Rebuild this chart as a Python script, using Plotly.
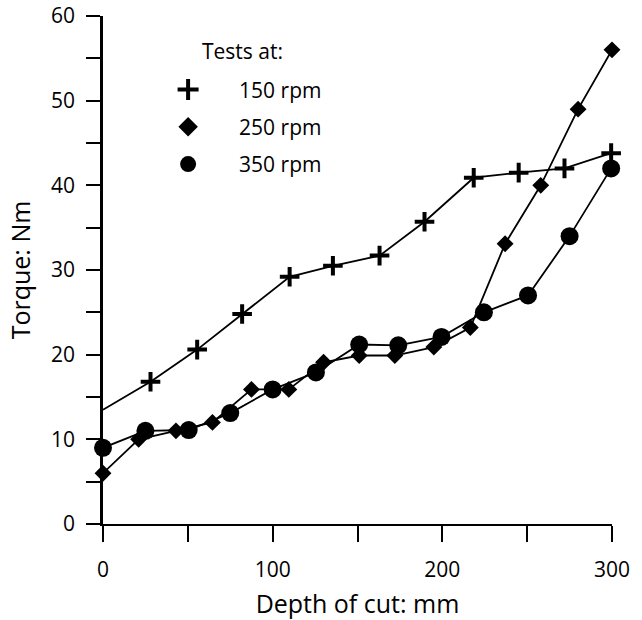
import plotly.graph_objects as go

# Data
depth_150 = [0, 28, 55.5, 82, 110, 135.5, 163, 189.5, 218.5, 245, 272, 299.5]
torque_150 = [13.5, 16.8, 20.6, 24.8, 29.2, 30.5, 31.7, 35.7, 40.9, 41.5, 42.0, 43.8]
show_150 = [False, True, True, True, True, True, True, True, True, True, True, True]

depth_250 = [0, 21, 43, 64.5, 87.5, 109.5, 130, 151, 172, 195, 216.5, 237, 258, 280, 300]
torque_250 = [6.0, 10.0, 11.0, 12.0, 15.9, 15.9, 19.1, 19.9, 19.9, 20.9, 23.2, 33.1, 40.0, 49.0, 56.0]

depth_350 = [0, 25, 50.5, 75, 100, 125.5, 151, 174, 199.5, 224.5, 250.5, 275, 299.5]
torque_350 = [9.0, 11.0, 11.1, 13.1, 15.9, 17.9, 21.2, 21.1, 22.1, 25.0, 27.0, 34.0, 42.0]

series_names = ["150 rpm", "250 rpm", "350 rpm"]
legend_title = "Tests at:"
x_title = "Depth of cut: mm"
y_title = "Torque: Nm"

x_tickvals = [0, 50, 100, 150, 200, 250, 300]
x_ticktext = ["0", "", "100", "", "200", "", "300"]
y_tickvals = [0, 5, 10, 15, 20, 25, 30, 35, 40, 45, 50, 55, 60]
y_ticktext = ["0", "", "10", "", "20", "", "30", "", "40", "", "50", "", "60"]

FONT = "Open Sans"
FS = 21
BLACK = "#000000"

fig = go.Figure()

# 150 rpm: line through all points, plus markers only where measured
fig.add_trace(go.Scatter(
    x=depth_150, y=torque_150, mode="lines", showlegend=False,
    line=dict(color=BLACK, width=1.8),
))
mx_150 = [x for x, s in zip(depth_150, show_150) if s]
my_150 = [y for y, s in zip(torque_150, show_150) if s]
fig.add_trace(go.Scatter(
    x=mx_150, y=my_150, mode="markers", showlegend=False,
    marker=dict(symbol="cross-thin", size=14, color=BLACK, opacity=1,
                line=dict(color=BLACK, width=4)),
    cliponaxis=False,
))
fig.add_trace(go.Scatter(
    x=depth_250, y=torque_250, mode="lines+markers", showlegend=False,
    line=dict(color=BLACK, width=1.8),
    marker=dict(symbol="diamond", size=13, color=BLACK),
    cliponaxis=False,
))
fig.add_trace(go.Scatter(
    x=depth_350, y=torque_350, mode="lines+markers", showlegend=False,
    line=dict(color=BLACK, width=1.8),
    marker=dict(symbol="circle", size=18, color=BLACK),
    cliponaxis=False,
))

# Legend-only entries (markers only, no line)
legend_markers = [
    dict(symbol="cross-thin", size=15, color=BLACK, line=dict(color=BLACK, width=4)),
    dict(symbol="diamond", size=15, color=BLACK),
    dict(symbol="circle", size=18, color=BLACK),
]
for i, (name, mk) in enumerate(zip(series_names, legend_markers)):
    fig.add_trace(go.Scatter(
        x=[None], y=[None], mode="markers", name=name, marker=mk,
        legendgroup="g%d" % i, showlegend=True,
    ))

fig.add_annotation(
    text=legend_title, xref="paper", yref="paper", x=0.275, y=0.931,
    xanchor="center", yanchor="middle", showarrow=False,
    font=dict(family=FONT, size=FS, color=BLACK),
)

fig.update_layout(
    width=642, height=620,
    margin=dict(l=103, r=30, t=16, b=96, autoexpand=False),
    paper_bgcolor="white", plot_bgcolor="white",
    font=dict(family=FONT, size=FS, color=BLACK),
    showlegend=True,
    legend=dict(
        x=0.067, y=0.895, xanchor="left", yanchor="top",
        bgcolor="rgba(0,0,0,0)", borderwidth=0,
        itemwidth=92, traceorder="grouped", tracegroupgap=7,
        font=dict(family=FONT, size=FS),
    ),
    xaxis=dict(
        range=[0, 300], showgrid=False, zeroline=False, automargin=False,
        showline=True, linecolor=BLACK, linewidth=2,
        ticks="outside", ticklen=16, tickwidth=2, tickcolor=BLACK,
        tickvals=x_tickvals, ticktext=x_ticktext, ticklabelstandoff=10,
        title=dict(text=x_title, standoff=14),
    ),
    yaxis=dict(
        range=[0, 60], showgrid=False, zeroline=False, automargin=False,
        showline=True, linecolor=BLACK, linewidth=2.5,
        ticks="outside", ticklen=14, tickwidth=2, tickcolor=BLACK,
        tickvals=y_tickvals, ticktext=y_ticktext, ticklabelstandoff=7,
        title=dict(text=y_title, standoff=14),
    ),
)

fig.write_html("out.html", config={"displayModeBar": False},
               post_script="document.body.style.margin='0px';")
